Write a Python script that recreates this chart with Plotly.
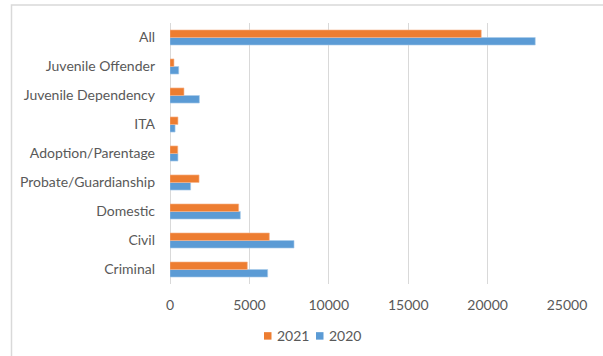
import plotly.graph_objects as go

# Case categories, listed bottom to top
categories = [
    "Criminal",
    "Civil",
    "Domestic",
    "Probate/Guardianship",
    "Adoption/Parentage",
    "ITA",
    "Juvenile Dependency",
    "Juvenile Offender",
    "All",
]
values_2020 = [6150, 7810, 4430, 1300, 500, 320, 1850, 550, 23000]
values_2021 = [4870, 6255, 4325, 1830, 490, 500, 880, 250, 19600]
x_ticks = [0, 5000, 10000, 15000, 20000, 25000]

ORANGE = "#ED7D31"
BLUE = "#5B9BD5"
TEXT = "#595959"
GRID = "#D9D9D9"
FONT = "Lato, Open Sans, sans-serif"

W, H = 603, 356
ML, MR, MT, MB = 170, 36, 23, 71.5
pw, ph = W - ML - MR, H - MT - MB


def px_x(px):
    """Page pixel column -> paper x."""
    return (px - ML) / pw


def px_y(py):
    """Page pixel row -> paper y."""
    return (H - MB - py) / ph


fig = go.Figure()
fig.add_trace(go.Bar(
    name="2020", y=categories, x=values_2020, orientation="h",
    marker=dict(color=BLUE, line=dict(color="#A9CBEA", width=0.6)),
    showlegend=False,
))
fig.add_trace(go.Bar(
    name="2021", y=categories, x=values_2021, orientation="h",
    marker=dict(color=ORANGE, line=dict(color="#F6B58E", width=0.6)),
    showlegend=False,
))

# light frame around the chart area
fig.add_shape(type="rect", xref="paper", yref="paper",
              x0=px_x(11.5), x1=2, y0=-2, y1=px_y(5),
              line=dict(color=GRID, width=1.5), fillcolor="rgba(0,0,0,0)")

# compact legend below the axis: colour swatch followed by the year
legend_items = [("2021", ORANGE, 264), ("2020", BLUE, 316)]
LEG_Y = 336.5
for label, color, left in legend_items:
    fig.add_shape(type="rect", xref="paper", yref="paper",
                  x0=px_x(left), x1=px_x(left + 7.5),
                  y0=px_y(LEG_Y + 3.75), y1=px_y(LEG_Y - 3.75),
                  line=dict(width=0), fillcolor=color)
    fig.add_annotation(xref="paper", yref="paper",
                       x=px_x(left + 10.5), y=px_y(LEG_Y),
                       xanchor="left", yanchor="middle",
                       text=label, showarrow=False,
                       font=dict(family=FONT, size=14, color=TEXT))

fig.update_layout(
    width=W, height=H,
    margin=dict(l=ML, r=MR, t=MT, b=MB, pad=0, autoexpand=False),
    paper_bgcolor="white", plot_bgcolor="white",
    barmode="group", bargap=0.48, bargroupgap=0,
    font=dict(family=FONT, size=14, color=TEXT),
    showlegend=False,
    xaxis=dict(range=[0, 25000], tickvals=x_ticks,
               ticktext=[str(v) for v in x_ticks],
               showgrid=True, gridcolor=GRID, gridwidth=1,
               zeroline=True, zerolinecolor=GRID, zerolinewidth=1,
               showline=False, ticks="", tickfont=dict(size=14, color=TEXT),
               ticklabelstandoff=11, fixedrange=True, automargin=False),
    yaxis=dict(categoryorder="array", categoryarray=categories,
               showgrid=False, showline=False, ticks="",
               ticklabelstandoff=14, tickfont=dict(size=14, color=TEXT),
               fixedrange=True, automargin=False),
)

fig.write_html("out.html")
